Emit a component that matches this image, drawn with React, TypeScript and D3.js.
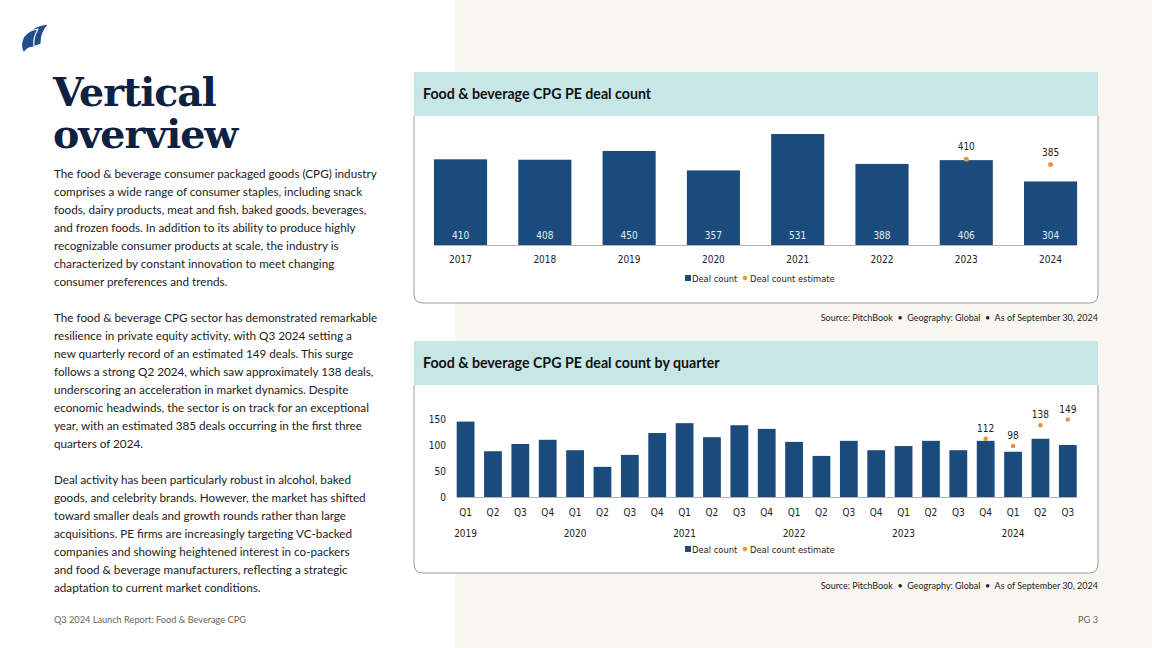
import * as d3 from "d3";

// annual deal counts
const years = ["2017", "2018", "2019", "2020", "2021", "2022", "2023", "2024"];
const annualDeals = [410, 408, 450, 357, 531, 388, 406, 304];
const annualEstimate: (number | null)[] = [null, null, null, null, null, null, 410, 385];

// quarterly deal counts
const quarterLabels = [
  "Q1", "Q2", "Q3", "Q4", "Q1", "Q2", "Q3", "Q4", "Q1", "Q2", "Q3", "Q4",
  "Q1", "Q2", "Q3", "Q4", "Q1", "Q2", "Q3", "Q4", "Q1", "Q2", "Q3",
];
const quarterYears = [
  "2019", "2019", "2019", "2019", "2020", "2020", "2020", "2020", "2021", "2021", "2021", "2021",
  "2022", "2022", "2022", "2022", "2023", "2023", "2023", "2023", "2024", "2024", "2024",
];
const quarterlyDeals = [
  145, 88, 102, 110, 90, 58, 81, 123, 142, 115, 138, 131,
  106, 79, 108, 90, 98, 108, 90, 108, 87, 112, 100,
];
const quarterlyEstimate: (number | null)[] = [
  null, null, null, null, null, null, null, null, null, null, null, null,
  null, null, null, null, null, null, null, 112, 98, 138, 149,
];
const quarterTicks = [0, 50, 100, 150];

const para1 = [
  "The food & beverage consumer packaged goods (CPG) industry",
  "comprises a wide range of consumer staples, including snack",
  "foods, dairy products, meat and fish, baked goods, beverages,",
  "and frozen foods. In addition to its ability to produce highly",
  "recognizable consumer products at scale, the industry is",
  "characterized by constant innovation to meet changing",
  "consumer preferences and trends.",
];
const para2 = [
  "The food & beverage CPG sector has demonstrated remarkable",
  "resilience in private equity activity, with Q3 2024 setting a",
  "new quarterly record of an estimated 149 deals. This surge",
  "follows a strong Q2 2024, which saw approximately 138 deals,",
  "underscoring an acceleration in market dynamics. Despite",
  "economic headwinds, the sector is on track for an exceptional",
  "year, with an estimated 385 deals occurring in the first three",
  "quarters of 2024.",
];
const para3 = [
  "Deal activity has been particularly robust in alcohol, baked",
  "goods, and celebrity brands. However, the market has shifted",
  "toward smaller deals and growth rounds rather than large",
  "acquisitions. PE firms are increasingly targeting VC-backed",
  "companies and showing heightened interest in co-packers",
  "and food & beverage manufacturers, reflecting a strategic",
  "adaptation to current market conditions.",
];

const BAR = "#1b4b7d";
const DOT = "#e8953c";
const NAVY = "#0f2142";
const BODY_FONT = "Lato, 'Open Sans', sans-serif";
const CHART_FONT = "'Liberation Sans Narrow', 'DejaVu Sans Condensed', sans-serif";
const SP = "\u00a0\u00a0";
const SOURCE = `Source: PitchBook${SP}\u2022${SP}Geography: Global${SP}\u2022${SP}As of September 30, 2024`;

function Card({ x, y, w, h, head, title }: { x: number; y: number; w: number; h: number; head: number; title: string }) {
  const r = 9;
  const b = y + h;
  const d = `M${x},${y + head} L${x},${b - r} Q${x},${b} ${x + r},${b} L${x + w - r},${b} Q${x + w},${b} ${x + w},${b - r} L${x + w},${y + head}`;
  return (
    <g>
      <path d={d} fill="#fff" stroke="#9a9a9a" strokeWidth={1} />
      <rect x={x} y={y} width={w} height={head} fill="#c6e7e6" />
      <text x={x + 9} y={y + head / 2 + 5} fontFamily={BODY_FONT} fontWeight={700} fontSize={14.2} fill="#111">
        {title}
      </text>
    </g>
  );
}

function Legend({ cx, y }: { cx: number; y: number }) {
  return (
    <g fontFamily={CHART_FONT} fontSize={9.3} fill="#222">
      <rect x={cx - 71} y={y - 7} width={6} height={6} fill={BAR} />
      <text x={cx - 64} y={y}>Deal count</text>
      <circle cx={cx - 11} cy={y - 4} r={2.3} fill={DOT} />
      <text x={cx - 6} y={y}>Deal count estimate</text>
    </g>
  );
}

function AnnualChart() {
  const x = d3.scaleBand().domain(years).range([418.4, 1092.7]).paddingInner(0.37).paddingOuter(0.185);
  const y = d3.scaleLinear().domain([0, 600]).range([245, 119.6]);
  const bw = x.bandwidth();
  return (
    <g fontFamily={CHART_FONT}>
      {years.map((yr, i) => {
        const x0 = x(yr)!;
        const est = annualEstimate[i];
        return (
          <g key={yr}>
            <rect x={x0} y={y(annualDeals[i])} width={bw} height={y(0) - y(annualDeals[i])} fill={BAR} />
            <text x={x0 + bw / 2} y={y(0) - 6} textAnchor="middle" fontSize={10} fill="#e6ecf3">
              {annualDeals[i]}
            </text>
            <text x={x0 + bw / 2} y={y(0) + 18} textAnchor="middle" fontSize={10} fill="#222">
              {yr}
            </text>
            {est != null && (
              <g>
                <circle cx={x0 + bw / 2} cy={y(est)} r={2.5} fill={DOT} />
                <text x={x0 + bw / 2} y={y(est) - 9} textAnchor="middle" fontSize={10} fill="#222">
                  {est}
                </text>
              </g>
            )}
          </g>
        );
      })}
      <line x1={x(years[0])!} x2={x(years[years.length - 1])! + bw} y1={y(0) + 0.5} y2={y(0) + 0.5} stroke="#b5b5b5" />
      <Legend cx={756} y={282} />
    </g>
  );
}

function QuarterChart() {
  const keys = quarterLabels.map((q, i) => `${quarterYears[i]}-${q}`);
  const x = d3.scaleBand().domain(keys).range([451.9, 1081.5]).paddingInner(0.35).paddingOuter(0.175);
  const y = d3.scaleLinear().domain([0, 150]).range([497, 419]);
  const bw = x.bandwidth();
  return (
    <g fontFamily={CHART_FONT}>
      {quarterTicks.map((t) => (
        <text key={t} x={446} y={y(t) + 3.5} textAnchor="end" fontSize={10} fill="#222">
          {t}
        </text>
      ))}
      {keys.map((k, i) => {
        const x0 = x(k)!;
        const est = quarterlyEstimate[i];
        return (
          <g key={k}>
            <rect x={x0} y={y(quarterlyDeals[i])} width={bw} height={y(0) - y(quarterlyDeals[i])} fill={BAR} />
            <text x={x0 + bw / 2} y={y(0) + 18.5} textAnchor="middle" fontSize={10} fill="#222">
              {quarterLabels[i]}
            </text>
            {quarterLabels[i] === "Q1" && (
              <text x={x0 + bw / 2} y={y(0) + 39.5} textAnchor="middle" fontSize={10} fill="#222">
                {quarterYears[i]}
              </text>
            )}
            {est != null && (
              <g>
                <circle cx={x0 + bw / 2} cy={y(est)} r={2.3} fill={DOT} />
                <text x={x0 + bw / 2} y={y(est) - 7} textAnchor="middle" fontSize={10} fill="#222">
                  {est}
                </text>
              </g>
            )}
          </g>
        );
      })}
      <line x1={x(keys[0])!} x2={x(keys[keys.length - 1])! + bw} y1={y(0) + 0.5} y2={y(0) + 0.5} stroke="#b5b5b5" />
      <Legend cx={756} y={553} />
    </g>
  );
}

function Paragraph({ lines, y0 }: { lines: string[]; y0: number }) {
  return (
    <text fontFamily={BODY_FONT} fontSize={11.7} fill="#222">
      {lines.map((l, i) => (
        <tspan key={i} x={54} y={y0 + i * 18}>
          {l}
        </tspan>
      ))}
    </text>
  );
}

export default function App() {
  return (
    <svg width={1152} height={648} style={{ position: "absolute", left: 0, top: 0 }}>
      <rect x={0} y={0} width={1152} height={648} fill="#fff" />
      <rect x={455} y={0} width={697} height={648} fill="#f8f6f1" />

      {/* logo */}
      <g fill="#1f4f8a" stroke="#fff" strokeWidth={1.2} strokeLinejoin="round">
        <path d="M30,32 C33,27 40,25 49,24 C43,30 41,36 41,44 L33,47 C30,42 29,37 30,32 Z" />
        <path d="M22,41 C24,34 30,30 38,29 C35,34 33,40 34,47 C30,47 26,49 24,53 C21,49 21,45 22,41 Z" />
      </g>

      <text fontFamily="'DejaVu Serif', serif" fontWeight={700} fontSize={39.5} fill={NAVY} letterSpacing={-1}>
        <tspan x={53} y={106}>Vertical</tspan>
        <tspan x={53} y={148}>overview</tspan>
      </text>

      <Paragraph lines={para1} y0={178} />
      <Paragraph lines={para2} y0={322} />
      <Paragraph lines={para3} y0={484} />

      <Card x={414} y={72} w={684} h={231} head={44} title="Food & beverage CPG PE deal count" />
      <AnnualChart />
      <text x={1098} y={321} textAnchor="end" fontFamily={BODY_FONT} fontSize={9} fill="#222">
        {SOURCE}
      </text>

      <Card x={414} y={341} w={684} h={232} head={44} title="Food & beverage CPG PE deal count by quarter" />
      <QuarterChart />
      <text x={1098} y={589} textAnchor="end" fontFamily={BODY_FONT} fontSize={9} fill="#222">
        {SOURCE}
      </text>

      <text x={54} y={623} fontFamily={BODY_FONT} fontSize={9.2} fill="#666">
        Q3 2024 Launch Report: Food & Beverage CPG
      </text>
      <text x={1098} y={623} textAnchor="end" fontFamily={BODY_FONT} fontSize={9.2} fill="#666">
        PG 3
      </text>
    </svg>
  );
}
